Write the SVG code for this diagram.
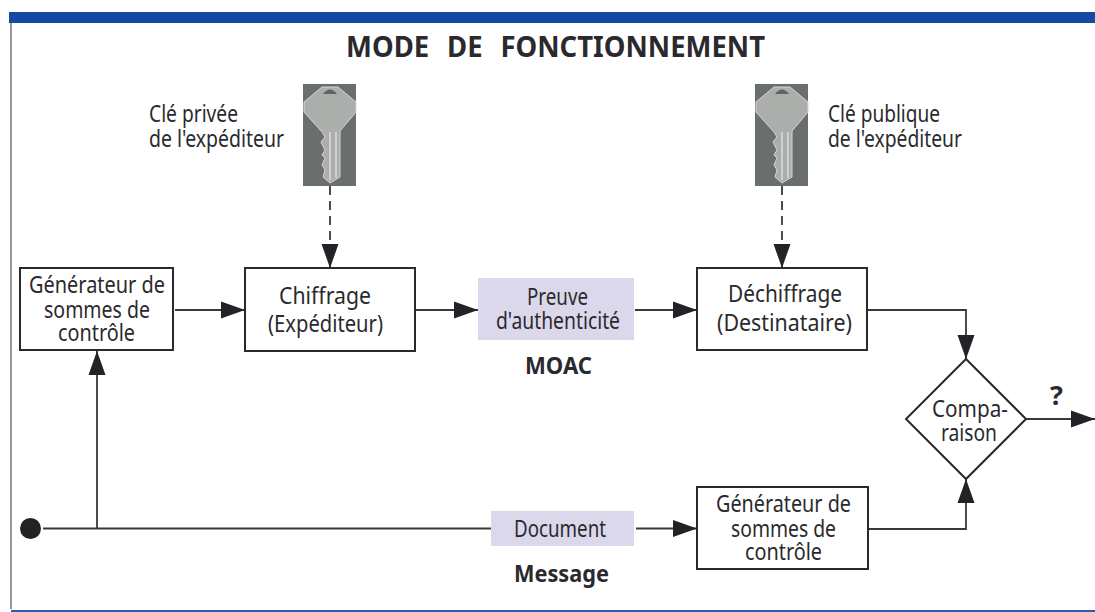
<svg xmlns="http://www.w3.org/2000/svg" width="1095" height="612" viewBox="0 0 1095 612">
<style>
text{font-family:"Noto Sans","Open Sans","Liberation Sans",sans-serif;fill:#2a2a2e;font-size:24px}
.b{font-weight:700}
.box{fill:#fff;stroke:#2a2a2e;stroke-width:2}
.lilac{fill:#dcd8ec}
.ln{fill:none;stroke:#38383c;stroke-width:1.8}
.d{stroke-dasharray:9 6}
</style>
<defs>
<marker id="a" markerUnits="userSpaceOnUse" markerWidth="25" markerHeight="18" refX="24" refY="9" orient="auto"><path d="M0 .5L24 9L0 17.500Z" fill="#232327"/></marker>
<g id="key">
<rect x="-27" y="0" width="53" height="102" fill="#6a6f6e"/>
<path d="M-8 3H8L26 18V28L10 47V93L0 99L-7 93L-5 86L-8 81L-5 74L-8 71L-5 66L-9 58L-5 53L-8 48L-26 28V18Z" fill="#acaeac" stroke="#d6d6d4" stroke-width="1"/>
<path d="M-7 10Q0 1 7 10Z" fill="#5d6262"/>
<path d="M0 48V96M6 48V94" stroke="#dcdcda" stroke-width="1.500" fill="none"/>
</g>
</defs>
<rect x="9" y="12" width="1086" height="11" fill="#134ba3"/>
<path d="M11 23V609" stroke="#77777a" stroke-width="1.500" fill="none"/>
<rect x="11" y="610" width="1084" height="2" fill="#2f5ca8"/>
<text id="title" class="b" x="346" y="57" style="font-size:28px;word-spacing:11px" textLength="419" lengthAdjust="spacingAndGlyphs">MODE DE FONCTIONNEMENT</text>
<g id="connectors">
<path class="ln d" d="M330 186V268" marker-end="url(#a)"/>
<path class="ln d" d="M782 186V268" marker-end="url(#a)"/>
<path class="ln" d="M175 310H245" marker-end="url(#a)"/>
<path class="ln" d="M416 310H478" marker-end="url(#a)"/>
<path class="ln" d="M635 310H697" marker-end="url(#a)"/>
<path class="ln" d="M868 310H966V359" marker-end="url(#a)"/>
<path class="ln" d="M43 528.500H491"/>
<path class="ln" d="M97 528.500V351" marker-end="url(#a)"/>
<path class="ln" d="M636 528.500H697" marker-end="url(#a)"/>
<path class="ln" d="M869 529H966V479" marker-end="url(#a)"/>
<path class="ln" d="M1026 419H1095" marker-end="url(#a)"/>
</g>
<g id="key-private"><use href="#key" transform="translate(330 84)"/></g>
<g id="key-public"><use href="#key" transform="translate(782 84)"/></g>
<g id="label-private"><text x="149" y="122" textLength="89" lengthAdjust="spacingAndGlyphs">Clé privée</text><text x="149" y="147" textLength="135" lengthAdjust="spacingAndGlyphs">de l'expéditeur</text></g>
<g id="label-public"><text x="828" y="122" textLength="112" lengthAdjust="spacingAndGlyphs">Clé publique</text><text x="828" y="147" textLength="134" lengthAdjust="spacingAndGlyphs">de l'expéditeur</text></g>
<g id="gen1"><rect class="box" x="20" y="268" width="153" height="82"/><text x="29" y="293" textLength="136" lengthAdjust="spacingAndGlyphs">Générateur de</text><text x="44" y="318" textLength="106" lengthAdjust="spacingAndGlyphs">sommes de</text><text x="58" y="341" textLength="77" lengthAdjust="spacingAndGlyphs">contrôle</text></g>
<g id="chiffrage"><rect class="box" x="245" y="268" width="170" height="83"/><text x="279" y="304" textLength="92" lengthAdjust="spacingAndGlyphs">Chiffrage</text><text x="268" y="332" textLength="115" lengthAdjust="spacingAndGlyphs">(Expéditeur)</text></g>
<g id="preuve"><rect class="lilac" x="478" y="278" width="156" height="62"/><text x="527" y="305" textLength="61" lengthAdjust="spacingAndGlyphs">Preuve</text><text x="496" y="329" textLength="124" lengthAdjust="spacingAndGlyphs">d'authenticité</text></g>
<text id="moac" class="b" x="525" y="374" textLength="67" lengthAdjust="spacingAndGlyphs">MOAC</text>
<g id="dechiffrage"><rect class="box" x="697" y="268" width="170" height="82"/><text x="728" y="302" textLength="114" lengthAdjust="spacingAndGlyphs">Déchiffrage</text><text x="717" y="331" textLength="135" lengthAdjust="spacingAndGlyphs">(Destinataire)</text></g>
<g id="comparaison"><path class="box" d="M966 359L1026 419L966 479L906 419Z"/><text x="932" y="417" textLength="76" lengthAdjust="spacingAndGlyphs">Compa-</text><text x="941" y="441" textLength="56" lengthAdjust="spacingAndGlyphs">raison</text></g>
<text id="q" class="b" x="1050" y="405" style="font-size:27px">?</text>
<g id="document"><rect class="lilac" x="491" y="511" width="143" height="35"/><text x="514" y="537" textLength="92" lengthAdjust="spacingAndGlyphs">Document</text></g>
<text id="message" class="b" x="514" y="582" textLength="95" lengthAdjust="spacingAndGlyphs">Message</text>
<g id="gen2"><rect class="box" x="697" y="487" width="171" height="82"/><text x="716" y="512" textLength="135" lengthAdjust="spacingAndGlyphs">Générateur de</text><text x="731" y="537" textLength="105" lengthAdjust="spacingAndGlyphs">sommes de</text><text x="745" y="560" textLength="77" lengthAdjust="spacingAndGlyphs">contrôle</text></g>
<circle id="start" cx="30.500" cy="528.500" r="10.500" fill="#232327"/>
</svg>
